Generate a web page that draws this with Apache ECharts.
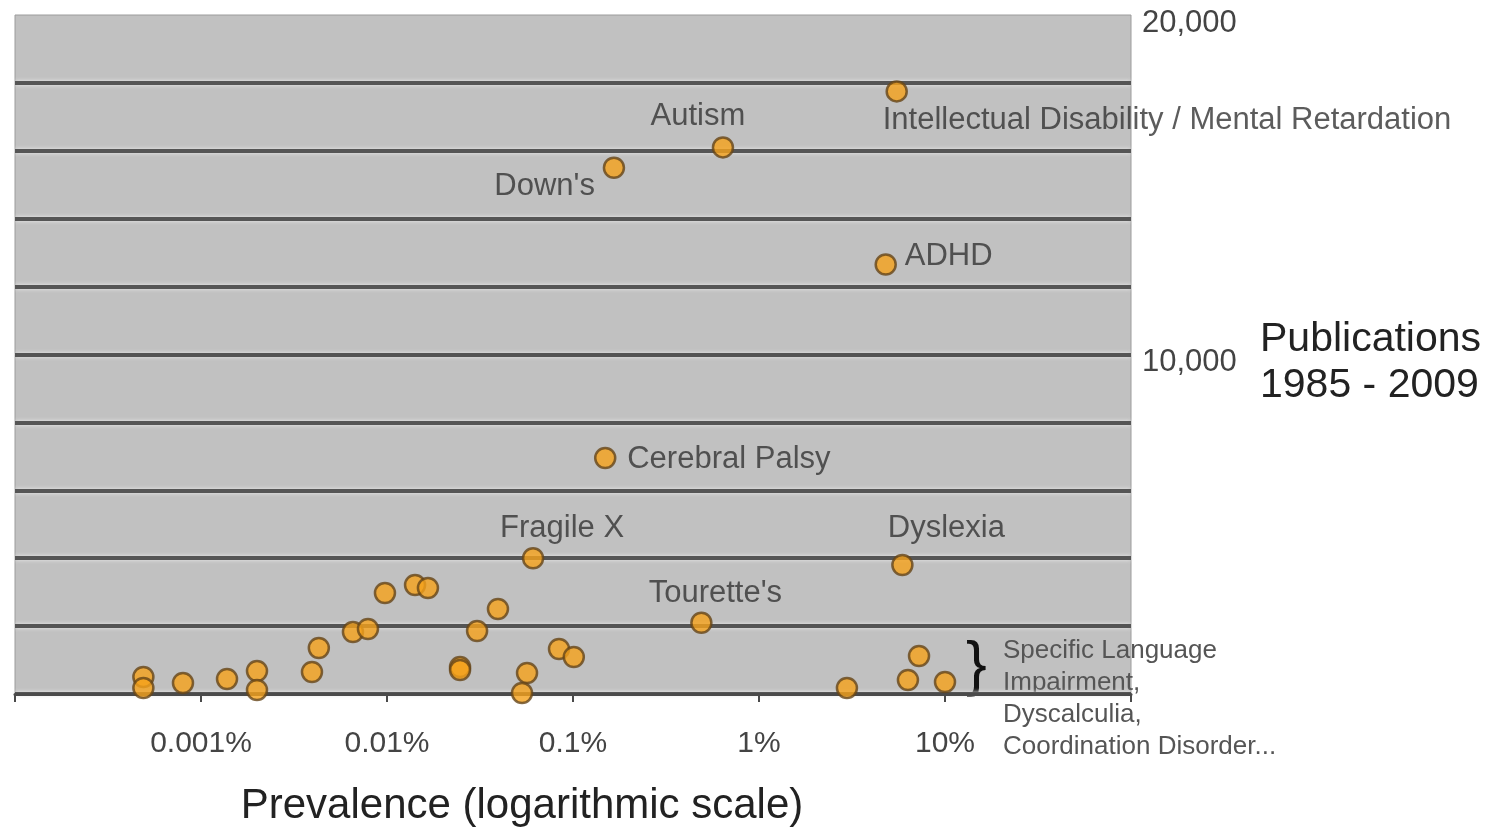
<!DOCTYPE html>
<html>
<head>
<meta charset="utf-8">
<script src="https://cdn.jsdelivr.net/npm/echarts@6/dist/echarts.min.js"></script>
<style>
html,body{margin:0;padding:0;background:#fff;}
#chart{width:1496px;height:829px;}
</style>
</head>
<body>
<div id="chart"></div>
<script>
// Labelled conditions: prevalence (%), publications 1985-2009
const labeledNames = ['Intellectual Disability / Mental Retardation', 'Autism', "Down's", 'ADHD', 'Cerebral Palsy', 'Fragile X', 'Dyslexia', "Tourette's"];
const labeledPrevalence = [5.5, 0.64, 0.166, 4.8, 0.149, 0.061, 5.9, 0.49];
const labeledPublications = [17750, 16100, 15500, 12650, 6950, 4000, 3800, 2100];

// Unlabelled conditions
const otherPrevalence = [0.00049, 0.00049, 0.0008, 0.00138, 0.002, 0.002, 0.00395, 0.0043, 0.00656, 0.0079, 0.00975, 0.01415, 0.0166, 0.0247, 0.0247, 0.0305, 0.0395, 0.0566, 0.0532, 0.0841, 0.101, 2.97, 7.25, 6.32, 10];
const otherPublications = [500, 177, 324, 442, 677, 118, 648, 1355, 1826, 1915, 2975, 3211, 3122, 795, 707, 1856, 2504, 619, 30, 1325, 1090, 177, 1119, 412, 353];

// Axis tick labels
const xTickValues = [0.001, 0.01, 0.1, 1, 10];
const xTickLabels = ['0.001%', '0.01%', '0.1%', '1%', '10%'];
const yTickValues = [10000, 20000];
const yTickLabels = ['10,000', '20,000'];

const xAxisTitle = 'Prevalence (logarithmic scale)';
const yAxisTitle = 'Publications\n1985 - 2009';
const groupNote = 'Specific Language\nImpairment,\nDyscalculia,\nCoordination Disorder...';

// label placement (style only)
const labelPlacement = {
  'Intellectual Disability / Mental Retardation': {align: 'left', offset: [-14, 29]},
  'Autism': {align: 'center', offset: [-25, -31]},
  "Down's": {align: 'right', offset: [-19, 19]},
  'ADHD': {align: 'left', offset: [19, -8]},
  'Cerebral Palsy': {align: 'left', offset: [22, 1]},
  'Fragile X': {align: 'center', offset: [29, -30]},
  'Dyslexia': {align: 'center', offset: [44, -37]},
  "Tourette's": {align: 'center', offset: [14, -29]}
};

const FONT = '"Liberation Sans", Arial, sans-serif';

const labeledData = labeledNames.map((n, i) => {
  const p = labelPlacement[n];
  return {
    name: n,
    value: [labeledPrevalence[i], labeledPublications[i]],
    label: {show: true, position: 'inside', align: p.align, verticalAlign: 'middle', offset: p.offset}
  };
});
const otherData = otherPrevalence.map((v, i) => [v, otherPublications[i]]);

const chart = echarts.init(document.getElementById('chart'), null, {renderer: 'canvas'});
const markerStyle = {color: '#f5a11a', borderColor: '#654518', borderWidth: 2.5};

chart.setOption({
  animation: false,
  backgroundColor: '#ffffff',
  grid: {left: 15, right: 365, top: 15, bottom: 135, show: true, backgroundColor: '#c1c1c1', borderColor: '#9c9c9c', borderWidth: 1},
  xAxis: {
    type: 'log', logBase: 10, min: 0.0001, max: 100,
    axisLine: {show: true, onZero: false, lineStyle: {color: '#4a4a4a', width: 3}},
    axisTick: {show: true, length: 8, lineStyle: {color: '#4a4a4a', width: 2}},
    splitLine: {show: false},
    axisLabel: {
      margin: 35, fontSize: 30, fontFamily: FONT, color: '#444',
      formatter: function (v) {
        const e = Math.round(Math.log10(v));
        const idx = xTickValues.findIndex(t => Math.round(Math.log10(t)) === e);
        return idx >= 0 ? xTickLabels[idx] : '';
      }
    }
  },
  yAxis: {
    type: 'value', position: 'right', min: 0, max: 20000, interval: 2000,
    axisLine: {show: false}, axisTick: {show: false},
    axisLabel: {
      margin: 11, fontSize: 31, fontFamily: FONT, color: '#444', verticalAlign: 'top', lineHeight: 16,
      formatter: function (v) {
        const idx = yTickValues.indexOf(v);
        return idx >= 0 ? yTickLabels[idx] : '';
      }
    },
    splitLine: {show: true, showMaxLine: false, lineStyle: {color: '#555555', width: 4, shadowColor: '#ececec', shadowBlur: 4}}
  },
  series: [
    {
      type: 'scatter', symbol: 'circle', symbolSize: 20, data: otherData,
      itemStyle: markerStyle, z: 3
    },
    {
      type: 'scatter', symbol: 'circle', symbolSize: 20, data: labeledData,
      itemStyle: markerStyle, z: 4,
      label: {show: true, formatter: '{b}', fontSize: 31, fontFamily: FONT, color: '#333'}
    }
  ],
  graphic: [
    {type: 'text', left: 1260, top: 317, style: {text: yAxisTitle, font: '41px ' + FONT, fill: '#222', lineHeight: 46}},
    {type: 'text', x: 522, y: 806, style: {text: xAxisTitle, font: '42px ' + FONT, fill: '#222', align: 'center', verticalAlign: 'middle'}},
    {type: 'text', left: 966, top: 636, style: {text: '}', font: '62px ' + FONT, fill: '#111'}},
    {type: 'text', left: 1003, top: 635, style: {text: groupNote, font: '26px ' + FONT, fill: '#555', lineHeight: 32}}
  ]
});
</script>
</body>
</html>
